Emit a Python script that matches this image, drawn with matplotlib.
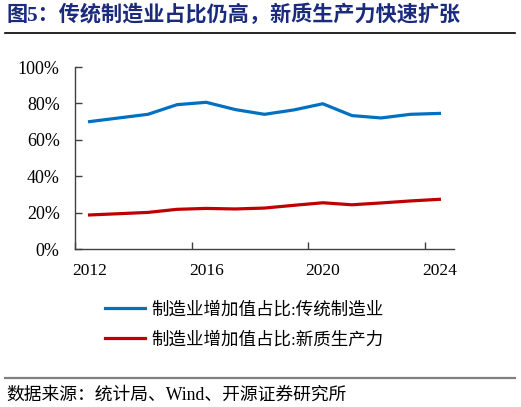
import matplotlib
matplotlib.use("Agg")
import matplotlib.pyplot as plt
from matplotlib.lines import Line2D

years = ["2012", "2013", "2014", "2015", "2016", "2017", "2018",
         "2019", "2020", "2021", "2022", "2023", "2024"]
traditional = [70.0, 72.0, 74.0, 79.3, 80.6, 76.6, 74.0,
               76.4, 79.8, 73.3, 72.0, 74.0, 74.5]
new_quality = [18.7, 19.4, 20.1, 21.8, 22.3, 22.0, 22.5,
               24.0, 25.4, 24.3, 25.3, 26.4, 27.3]
y_ticks = [0, 20, 40, 60, 80, 100]
label_years = ["2012", "2016", "2020", "2024"]
series_names = ["制造业增加值占比:传统制造业", "制造业增加值占比:新质生产力"]
title = "图5：传统制造业占比仍高，新质生产力快速扩张"
source = "数据来源：统计局、Wind、开源证券研究所"

FAM = ["Liberation Serif", "Noto Sans CJK SC", "DejaVu Sans"]
plt.rcParams["font.family"] = FAM

W, H = 521, 407
fig = plt.figure(figsize=(W / 100, H / 100), dpi=100)
ax = fig.add_axes([75 / W, 1 - 249 / H, (454 - 75) / W, (249 - 67) / H])

x = list(range(len(years)))
ax.plot(x, traditional, color="#0070C0", lw=2.3, solid_joinstyle="round")
ax.plot(x, new_quality, color="#C00000", lw=2.3, solid_joinstyle="round")

ax.set_xlim(-0.5, len(years) - 0.5)
ax.set_ylim(0, 100)
ax.set_yticks(y_ticks)
ax.set_yticklabels([f"{v}%" for v in y_ticks], fontsize=13)

# category boundaries as major ticks, labels at category centers
label_pos = [years.index(y) for y in label_years]
ax.set_xticks([p - 0.5 for p in label_pos])
ax.set_xticklabels([])
ax.set_xticks(label_pos, minor=True)
ax.set_xticklabels(label_years, minor=True, fontsize=12.5)
ax.tick_params(axis="x", which="minor", length=0, pad=10)
ax.tick_params(axis="x", which="major", direction="in", length=5,
               width=1, color="#404040")
ax.tick_params(axis="y", direction="in", length=5, width=1,
               color="#404040", pad=11)

for s in ["top", "right"]:
    ax.spines[s].set_visible(False)
for s in ["left", "bottom"]:
    ax.spines[s].set_color("#404040")
    ax.spines[s].set_linewidth(1)

# legend
handles = [Line2D([], [], color="#0070C0", lw=2.3),
           Line2D([], [], color="#C00000", lw=2.3)]
leg = fig.legend(handles, series_names, loc="center",
                 bbox_to_anchor=(244 / W, 1 - 325 / H), frameon=False,
                 prop={"family": FAM, "size": 12.6}, handlelength=2.3,
                 handletextpad=0.35, labelspacing=0.75, borderpad=0)

# title and rules
fig.text(6 / W, 1 - 15 / H, title, fontsize=15.2, fontweight="bold",
         color="#1A2A7C", ha="left", va="center", family=FAM)
fig.add_artist(Line2D([5 / W, 515 / W], [1 - 33 / H, 1 - 33 / H],
                      color="black", lw=1.2, transform=fig.transFigure))
fig.add_artist(Line2D([5 / W, 515 / W], [1 - 378 / H, 1 - 378 / H],
                      color="#808080", lw=1.6, transform=fig.transFigure))
fig.text(6 / W, 1 - 395 / H, source, fontsize=12.8, color="black",
         ha="left", va="center", family=FAM)

fig.savefig("out.png", dpi=100)
